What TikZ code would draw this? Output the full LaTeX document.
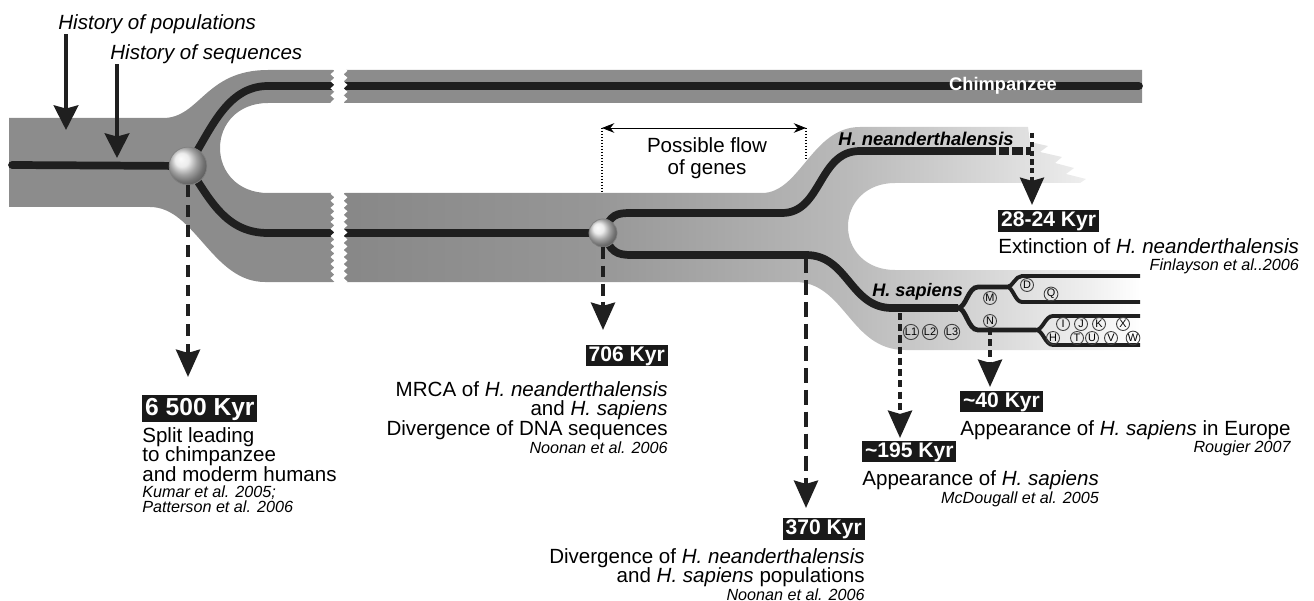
\documentclass[tikz,border=0pt]{standalone}
\usepackage{fontspec}
\setmainfont{Liberation Sans}
\usetikzlibrary{arrows.meta,positioning,decorations.pathmorphing}
\pgfdeclarehorizontalshading{bandfade}{100bp}{color(0bp)=(black!47); color(25bp)=(black!47); color(41bp)=(black!41); color(57bp)=(black!27); color(66bp)=(black!15); color(72bp)=(black!6); color(75bp)=(white); color(100bp)=(white)}

\begin{document}
\begin{tikzpicture}[x=0.02cm, y=-0.02cm,
  lineage/.style={line width=4.4pt, draw=black!88},
  sublin/.style={line width=2.7pt, draw=black!88},
  leaflin/.style={line width=2.2pt, draw=black!88},
  hap/.style={circle, draw=black!75, line width=0.5pt, inner sep=0.2pt, minimum size=7.4pt, font=\fontsize{6.2}{6.2}\selectfont},
  knot/.style={circle, inner sep=0pt, ball color=black!10, draw=black!50, line width=0.4pt},
  histarr/.style={-{Stealth[length=14pt, width=14pt, inset=1.8pt]}, line width=2.3pt, draw=black!88},
  datearr/.style={-{Stealth[length=15.5pt, width=13.5pt, inset=1.8pt]}, line width=2.7pt, draw=black!88},
  kyr/.style={fill=black!90, text=white, font=\bfseries\fontsize{12}{12}\selectfont, inner xsep=1.6pt, inner ysep=0.6pt, text height=8.8pt, text depth=2.3pt},
  desc/.style={inner sep=0pt, font=\fontsize{11.7}{11.3}\selectfont},
  ref/.style={inner sep=0pt, font=\itshape\fontsize{9.2}{8.6}\selectfont},
  taxon/.style={inner sep=0pt, font=\bfseries\itshape\fontsize{10.5}{10.5}\selectfont},
  hist/.style={inner sep=0pt, font=\itshape\fontsize{11.7}{11.7}\selectfont}
]
\useasboundingbox (0,0) rectangle (1314,601);

\fill[black!45] (9,118) -- (163,118) .. controls (200,118) and (205,70) .. (268,70) -- (1142,70) -- (1142,103) -- (268,103)
  .. controls (238,103) and (220,124) .. (220,148) .. controls (220,172) and (238,193) .. (268,193) -- (340,193) -- (340,282)
  -- (265,282) .. controls (212,282) and (195,207) .. (150,207) -- (9,207) -- cycle;
\shade[shading=bandfade] (338,193) -- (762,193) .. controls (800,193) and (812,127) .. (860,127) -- (1028,127) -- (1030,142)
  -- (1048,146) -- (1040,152) -- (1062,157) -- (1055,163) -- (1074,168) -- (1066,174) -- (1086,179) -- (1080,183) -- (895,183)
  .. controls (866,183) and (848,203) .. (848,226.5) .. controls (848,250) and (866,270) .. (895,270) -- (1140,270)
  -- (1140,350) -- (905,350) .. controls (850,350) and (845,282) .. (795,282) -- (338,282) -- cycle;

\coordinate (splitc) at (188,166);
\coordinate (mrcac) at (603,233);
\coordinate (splitS) at (958,308);
\coordinate (splitM) at (1007,287);
\coordinate (splitN) at (1036,330);

\draw[lineage, line cap=round] (12,165) -- (splitc);
\draw[lineage, line cap=round] (splitc) .. controls (210,132) and (226,86) .. (268,86) -- (1139,86);
\draw[lineage] (splitc) .. controls (210,200) and (226,233) .. (268,233) -- (mrcac);
\draw[lineage] (mrcac) .. controls (611,214) and (616,213) .. (632,213) -- (782,213) .. controls (822,213) and (818,151) .. (860,151) -- (985,151);
\draw[lineage, line width=4pt, dash pattern=on 6pt off 1.8pt] (985,151) -- (1031,151);
\draw[lineage] (mrcac) .. controls (611,252) and (616,255) .. (632,255) -- (806,255) .. controls (848,255) and (850,308) .. (892,308) -- (splitS);
\draw[sublin] (splitS) .. controls (966,308) and (968,287) .. (978,287) -- (splitM);
\draw[leaflin] (splitM) .. controls (1013,287) and (1015,276) .. (1022,276) -- (1140,276);
\draw[leaflin] (splitM) .. controls (1013,287) and (1015,302) .. (1022,302) -- (1140,302);
\draw[sublin] (splitS) .. controls (966,308) and (968,330) .. (978,330) -- (splitN);
\draw[leaflin] (splitN) .. controls (1043,330) and (1045,316) .. (1053,316) -- (1140,316);
\draw[leaflin] (splitN) .. controls (1043,330) and (1045,345) .. (1053,345) -- (1140,345);

\draw[white, line width=5pt, decorate, decoration={zigzag, segment length=4pt, amplitude=1.1pt}] (339,62) -- (339,292);

\node[knot, minimum size=21.5pt] (split) at (splitc) {};
\node[knot, minimum size=16pt] (mrca) at (mrcac) {};

\foreach \hname/\hx/\hy in {L1/911/332, L2/930/332, L3/952/332, M/990/298, N/990/321, D/1027/285, Q/1051/294,
  I/1063/324, J/1081/324, K/1099/324, X/1123/324, H/1053/338, T/1077/338, U/1092/338, V/1111/338, W/1133/338}
  \node[hap] (hap\hname) at (\hx,\hy) {\hname};

\node[hist, anchor=base west] (histpop) at (58,29.5) {History of populations};
\node[hist, anchor=base west] (histseq) at (110,59.4) {History of sequences};
\coordinate (poptip) at (66,130);
\coordinate (seqtip) at (117,158);
\draw[histarr] (histpop.south west -| poptip) -- (poptip);
\draw[histarr] (histseq.south west -| seqtip) -- (seqtip);

\node[inner sep=0pt, text=white, font=\bfseries\fontsize{10.4}{10.4}\selectfont, anchor=base] (chimp) at (1003,90.6) {Chimpanzee};
\node[taxon, anchor=base west] (nean) at (838,145.7) {H. neanderthalensis};
\node[taxon, font=\bfseries\itshape\fontsize{10.3}{10.3}\selectfont, anchor=base west] (sap) at (872,296.6) {H. sapiens};

\coordinate (flowL) at (602,128);
\coordinate (flowR) at (806,128);
\coordinate (flowLb) at (602,193);
\coordinate (flowRb) at (806,158);
\draw[line width=0.8pt, dash pattern=on 0.8pt off 0.9pt] (flowL) -- (flowLb);
\draw[line width=0.8pt, dash pattern=on 0.8pt off 0.9pt] (flowR) -- (flowRb);
\draw[{Stealth[length=7pt, width=5.5pt]}-{Stealth[length=7pt, width=5.5pt]}, line width=0.45pt] (flowL) -- (flowR);
\node[desc, align=center, font=\fontsize{11.7}{12.5}\selectfont, anchor=north] (flow) at (707,137.6) {Possible flow\\of genes};

\coordinate (tip6500) at (188,377);
\coordinate (tip706) at (603,330);
\coordinate (div370) at (806,258);
\coordinate (tip370) at (806,508);
\coordinate (app195) at (900,313);
\coordinate (tip195) at (900,438);
\coordinate (tip40) at (990,387);
\coordinate (ext2824) at (1032,133);
\coordinate (tip2824) at (1032,205);
\draw[datearr, dash pattern=on 6.8pt off 4.5pt] (split.south) -- (tip6500);
\draw[datearr, dash pattern=on 6.8pt off 3.5pt] (mrca.south) -- (tip706);
\draw[datearr, dash pattern=on 8.5pt off 4pt] (div370) -- (tip370);
\draw[datearr, dash pattern=on 4pt off 2.4pt] (app195) -- (tip195);
\draw[datearr, dash pattern=on 4pt off 2.4pt] (hapN.south) -- (tip40);
\draw[datearr, line width=2.4pt, dash pattern=on 3pt off 2pt] (ext2824) -- (tip2824);

\node[kyr, font=\bfseries\fontsize{14}{14}\selectfont, text height=10.3pt, text depth=2.8pt, inner ysep=0.9pt, anchor=west] (k6500) at (142,408.5) {6 500 Kyr};
\node[desc, align=left, below right=2.8pt and 0pt of k6500.south west] (d6500) {Split leading\\to chimpanzee\\and moderm humans};
\node[ref, align=left, below right=1.75pt and 0pt of d6500.south west] (r6500) {Kumar et al. 2005;\\Patterson et al. 2006};

\node[kyr, anchor=east] (k706) at (668,355.5) {706 Kyr};
\node[desc, align=right, below left=8.1pt and 0pt of k706.south east] (d706) {MRCA of \textit{H. neanderthalensis}\\and \textit{H. sapiens}\\Divergence of DNA sequences};
\node[ref, below left=0.3pt and 0pt of d706.south east] (r706) {Noonan et al. 2006};

\node[kyr, anchor=east] (k370) at (865,529) {370 Kyr};
\node[desc, align=right, below left=4.4pt and 0pt of k370.south east] (d370) {Divergence of \textit{H. neanderthalensis}\\and \textit{H. sapiens} populations};
\node[ref, below left=0.2pt and 0pt of d370.south east] (r370) {Noonan et al. 2006};

\node[kyr, anchor=west] (k195) at (862,451.5) {\textasciitilde 195 Kyr};
\node[desc, below right=4.6pt and 0pt of k195.south west] (d195) {Appearance of \textit{H. sapiens}};
\node[ref, below left=0.7pt and 0pt of d195.south east] (r195) {McDougall et al. 2005};

\node[kyr, anchor=west] (k40) at (960,401.5) {\textasciitilde 40 Kyr};
\node[desc, below right=4.1pt and 0pt of k40.south west] (d40) {Appearance of \textit{H. sapiens} in Europe};
\node[ref, below left=0.5pt and 0pt of d40.south east] (r40) {Rougier 2007};

\node[kyr, anchor=west] (k2824) at (998,221) {28-24 Kyr};
\node[desc, below right=3.2pt and 0pt of k2824.south west] (d2824) {Extinction of \textit{H. neanderthalensis}};
\node[ref, below left=2.5pt and 0pt of d2824.south east] (r2824) {Finlayson et al..2006};
\end{tikzpicture}
\end{document}
